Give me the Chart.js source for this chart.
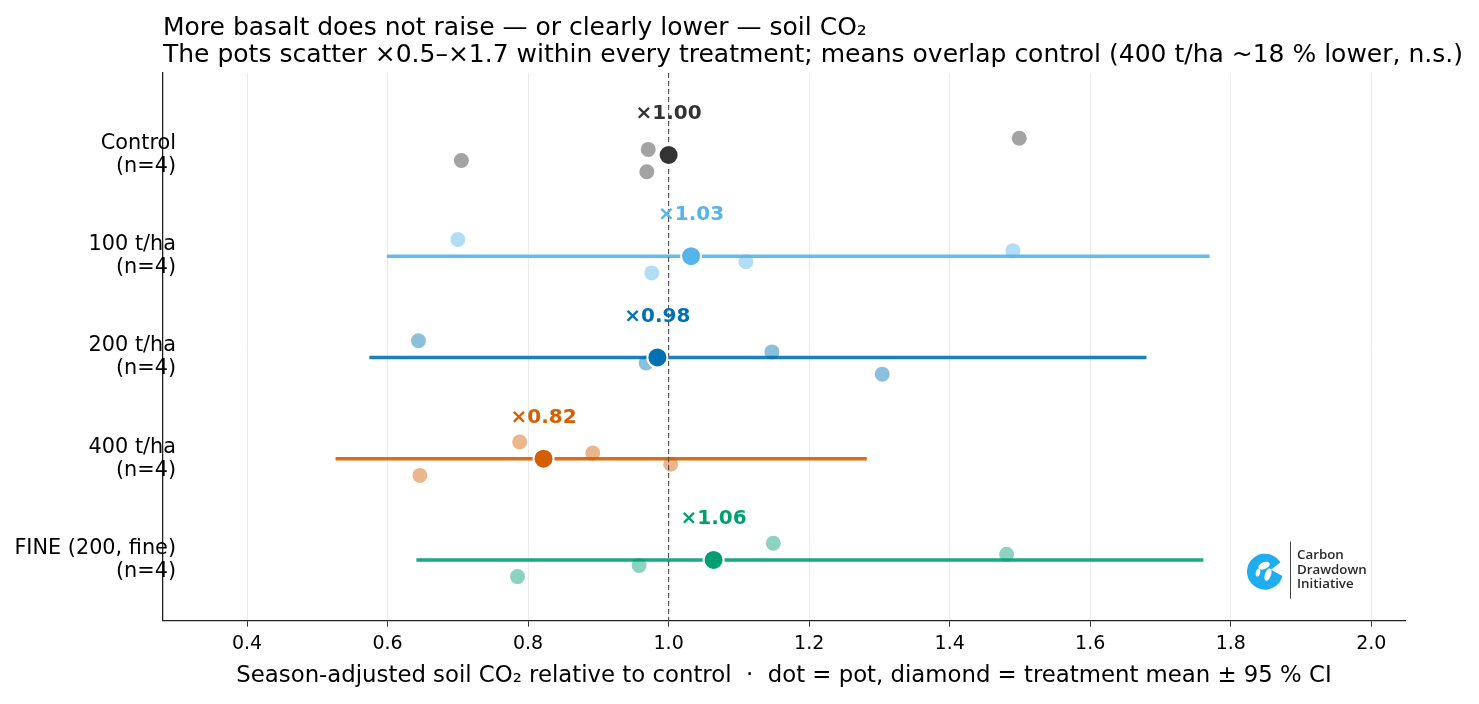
<!DOCTYPE html>
<html>
<head>
<meta charset="utf-8">
<script src="https://cdn.jsdelivr.net/npm/chart.js@4.4.0/dist/chart.umd.min.js"></script>
<style>
  html, body { margin:0; padding:0; background:#fff; }
  #wrap { width:1479px; height:704px; position:relative; }
</style>
</head>
<body>
<div id="wrap"><canvas id="chart"></canvas></div>
<script>
// ---------------------------------------------------------------
// Data (relative soil CO2, ×control)
// ---------------------------------------------------------------
const titleLines = [
  'More basalt does not raise — or clearly lower — soil CO₂',
  'The pots scatter ×0.5–×1.7 within every treatment; means overlap control (400 t/ha ~18 % lower, n.s.)'
];
const categories = [
  ['Control', '(n=4)'],
  ['100 t/ha', '(n=4)'],
  ['200 t/ha', '(n=4)'],
  ['400 t/ha', '(n=4)'],
  ['FINE (200, fine)', '(n=4)']
];
const jitter = [-0.165, -0.055, 0.055, 0.165];   // vertical spread of pots within a row

const potsControl = [1.499, 0.971, 0.705, 0.969];
const pots100     = [0.700, 1.490, 1.110, 0.976];
const pots200     = [0.644, 1.147, 0.968, 1.304];
const pots400     = [0.788, 0.892, 1.003, 0.646];
const potsFine    = [1.149, 1.481, 0.958, 0.785];

const means      = [1.000, 1.032, 0.984, 0.822, 1.064];
const ciLow      = [null, 0.599, 0.574, 0.526, 0.641];
const ciHigh     = [null, 1.770, 1.680, 1.282, 1.761];
const meanLabels = ['×1.00', '×1.03', '×0.98', '×0.82', '×1.06'];

const xTicks = [0.4, 0.6, 0.8, 1.0, 1.2, 1.4, 1.6, 1.8, 2.0];

// ---------------------------------------------------------------
// Colours
// ---------------------------------------------------------------
const colors = ['51,51,51', '86,180,233', '0,114,178', '213,94,0', '0,158,115'];
const rgba = (c, a) => `rgba(${c},${a})`;

const potSets = [potsControl, pots100, pots200, pots400, potsFine];

const datasets = [];

// treatment means (on top)
datasets.push({
  label: 'mean',
  data: means.map((m, i) => ({ x: m, y: i })),
  pointRadius: 10,
  pointBorderWidth: 2,
  pointBorderColor: '#fff',
  pointBackgroundColor: colors.map(c => rgba(c, 1)),
  showLine: false,
  order: 0
});

// reference line at ×1.0
datasets.push({
  label: 'ref',
  data: [{ x: 1, y: -0.81 }, { x: 1, y: 4.6 }],
  showLine: true,
  borderColor: '#4a4a4a',
  borderWidth: 1.1,
  borderDash: [5, 3],
  pointRadius: 0,
  order: 1
});

// individual pots
potSets.forEach((vals, i) => {
  datasets.push({
    label: 'pots ' + i,
    data: vals.map((v, k) => ({ x: v, y: i + jitter[k] })),
    pointRadius: 7.5,
    pointBorderWidth: 0,
    pointBackgroundColor: rgba(colors[i], 0.45),
    showLine: false,
    order: 2
  });
});

// 95 % CI bars
ciLow.forEach((lo, i) => {
  if (lo === null) return;
  datasets.push({
    label: 'ci ' + i,
    data: [{ x: lo, y: i }, { x: ciHigh[i], y: i }],
    showLine: true,
    borderColor: rgba(colors[i], 0.9),
    borderWidth: 3.5,
    pointRadius: 0,
    order: 3
  });
});

// ---------------------------------------------------------------
// Plugins: title, category labels, mean labels, logo
// ---------------------------------------------------------------
const titlePlugin = {
  id: 'leftTitle',
  afterDraw(chart) {
    const { ctx, chartArea } = chart;
    ctx.save();
    ctx.font = "25px 'DejaVu Sans', sans-serif";
    ctx.fillStyle = '#000';
    ctx.textAlign = 'left';
    ctx.textBaseline = 'alphabetic';
    titleLines.forEach((t, k) => {
      ctx.fillText(t, chartArea.left, chartArea.top - 38.5 + k * 27.5);
    });
    ctx.restore();
  }
};

const categoryLabelPlugin = {
  id: 'categoryLabels',
  afterDraw(chart) {
    const { ctx, chartArea, scales: { y } } = chart;
    ctx.save();
    ctx.font = "20.8px 'DejaVu Sans', sans-serif";
    ctx.fillStyle = '#000';
    ctx.textAlign = 'right';
    ctx.textBaseline = 'middle';
    categories.forEach((lines, i) => {
      const yc = y.getPixelForValue(i);
      lines.forEach((t, k) => {
        ctx.fillText(t, chartArea.left + 13, yc + (k - (lines.length - 1) / 2) * 23);
      });
    });
    ctx.restore();
  }
};

const meanLabelPlugin = {
  id: 'meanLabels',
  afterDatasetsDraw(chart) {
    const { ctx, scales: { x, y } } = chart;
    ctx.save();
    ctx.font = "bold 20px 'DejaVu Sans', sans-serif";
    ctx.textAlign = 'center';
    ctx.textBaseline = 'middle';
    means.forEach((m, i) => {
      ctx.fillStyle = rgba(colors[i], 1);
      ctx.fillText(meanLabels[i], x.getPixelForValue(m), y.getPixelForValue(i - 0.405));
    });
    ctx.restore();
  }
};

const logoPlugin = {
  id: 'logo',
  afterDraw(chart) {
    const { ctx, chartArea } = chart;
    const cx = chartArea.right - 140, cy = chartArea.bottom - 49, r = 18;
    ctx.save();
    // globe "C": blue disc with an opening on the right
    ctx.fillStyle = '#1fadef';
    ctx.beginPath();
    ctx.arc(cx, cy, r, 0.25, Math.PI * 2 - 0.55);
    ctx.lineTo(cx + 6, cy - 2);
    ctx.closePath();
    ctx.fill();
    // white continents
    ctx.fillStyle = '#fff';
    ctx.beginPath();
    ctx.ellipse(cx - 1, cy - 6, 6, 3.5, -0.4, 0, Math.PI * 2);
    ctx.fill();
    ctx.beginPath();
    ctx.ellipse(cx + 3, cy + 3, 3, 6.5, 0.35, 0, Math.PI * 2);
    ctx.fill();
    ctx.beginPath();
    ctx.ellipse(cx - 7, cy + 1, 2.2, 4, 0.2, 0, Math.PI * 2);
    ctx.fill();
    // divider
    ctx.strokeStyle = '#444';
    ctx.lineWidth = 1;
    ctx.beginPath();
    ctx.moveTo(cx + 25.5, cy - 30);
    ctx.lineTo(cx + 25.5, cy + 27);
    ctx.stroke();
    // wordmark
    ctx.fillStyle = '#2a2a2a';
    ctx.font = "600 13.3px 'Open Sans', sans-serif";
    ctx.textAlign = 'left';
    ctx.textBaseline = 'middle';
    ['Carbon', 'Drawdown', 'Initiative'].forEach((t, k) => {
      ctx.fillText(t, cx + 32, cy - 16 + k * 14.5);
    });
    ctx.restore();
  }
};

// ---------------------------------------------------------------
// Chart
// ---------------------------------------------------------------
Chart.defaults.font.family = "'DejaVu Sans', sans-serif";
Chart.defaults.color = '#000';

new Chart(document.getElementById('chart'), {
  type: 'scatter',
  data: { datasets },
  options: {
    responsive: true,
    maintainAspectRatio: false,
    animation: false,
    events: [],
    layout: { padding: { left: 163, right: 74, top: 73, bottom: 14 } },
    plugins: {
      legend: { display: false },
      tooltip: { enabled: false },
      title: { display: false }
    },
    scales: {
      x: {
        type: 'linear',
        min: 0.2804,
        max: 2.048,
        afterBuildTicks: axis => { axis.ticks = xTicks.map(v => ({ value: v })); },
        ticks: {
          callback: v => Number(v).toFixed(1),
          font: { size: 19 },
          color: '#000',
          padding: 5.6
        },
        grid: { color: '#ebebeb', lineWidth: 1, tickColor: '#333', tickLength: 6 },
        border: { color: '#222', width: 1.3 },
        title: {
          display: true,
          text: 'Season-adjusted soil CO₂ relative to control  ·  dot = pot, diamond = treatment mean ± 95 % CI',
          font: { size: 22.8 },
          color: '#000',
          padding: { top: 2, bottom: 0 }
        }
      },
      y: {
        type: 'linear',
        min: -0.81,
        max: 4.6,
        reverse: true,
        ticks: { display: false },
        grid: { display: false, drawTicks: false },
        border: { color: '#222', width: 1.3 }
      }
    }
  },
  plugins: [meanLabelPlugin, categoryLabelPlugin, titlePlugin, logoPlugin]
});
</script>
</body>
</html>
